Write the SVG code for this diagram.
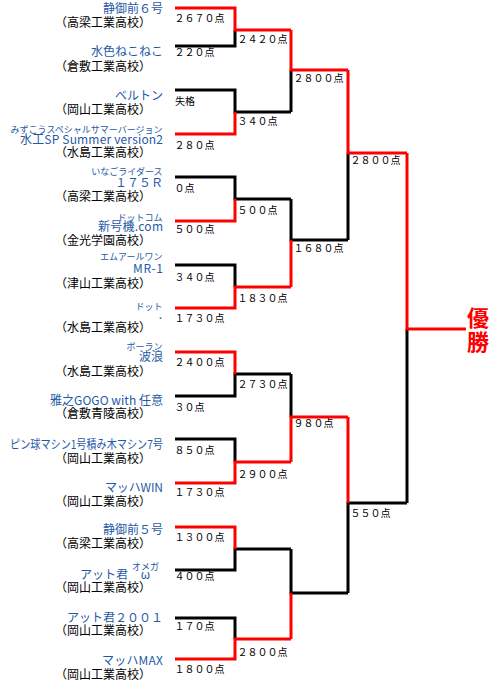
<svg xmlns="http://www.w3.org/2000/svg" width="503" height="686" viewBox="0 0 503 686">
<style>
text{font-family:"Noto Sans CJK JP","Noto Sans CJK SC",sans-serif}
.n{font-size:12px;fill:#1f5aa6;text-anchor:end}
.r{font-size:9px;fill:#1f5aa6;text-anchor:end}
.s{font-size:12px;fill:#000}
.p{font-size:10px;fill:#000}
.k{fill:none;stroke:#000;stroke-width:3}
.w{fill:none;stroke:#f00;stroke-width:3}
.champ{font-size:22px;font-weight:bold;fill:#f00}
</style>
<rect width="503" height="686" fill="#fff"/>
<g id="connectors">
<g class="k">
<path d="M175 46H235V30"/>
<path d="M175 90H235V112H291"/>
<path d="M175 177H235V199H291"/>
<path d="M175 265H235V287"/>
<path d="M175 396H235V374H291"/>
<path d="M175 439H235V462"/>
<path d="M175 570H235V549H291"/>
<path d="M175 618H235V639"/>
<path d="M291 112V70"/>
<path d="M291 199V240H348"/>
<path d="M291 374V417"/>
<path d="M291 549V593H348"/>
<path d="M348 240V153"/>
<path d="M348 593V503H407"/>
<path d="M407 503V329"/>
</g>
<g class="w">
<path d="M175 8H235V30H291"/>
<path d="M175 134H235V112"/>
<path d="M175 221H235V199"/>
<path d="M175 308H235V287H291"/>
<path d="M175 352H235V374"/>
<path d="M175 483H235V462H291"/>
<path d="M175 527H235V549"/>
<path d="M175 659H235V639H291"/>
<path d="M291 30V70H348"/>
<path d="M291 287V240"/>
<path d="M291 462V417H348"/>
<path d="M291 639V593"/>
<path d="M348 70V153H407"/>
<path d="M348 417V503"/>
<path d="M407 153V329H466"/>
</g>
</g>
<g id="team1"><text class="n" x="163" y="13">静御前６号</text><text class="s" x="55" y="27">（高梁工業高校）</text><text class="p" x="174.5" y="22">２６７０点</text></g>
<g id="team2"><text class="n" x="163" y="56">水色ねこねこ</text><text class="s" x="55" y="71">（倉敷工業高校）</text><text class="p" x="174.5" y="56">２２０点</text></g>
<g id="team3"><text class="n" x="163" y="100">ベルトン</text><text class="s" x="55" y="114">（岡山工業高校）</text><text class="p" x="175" y="105">失格</text></g>
<g id="team4"><text class="r" x="162.5" y="133">みずこうスペシャルサマーバージョン</text><text class="n" x="163" y="144" textLength="143">水工SP Summer version2</text><text class="s" x="55" y="157">（水島工業高校）</text><text class="p" x="174.5" y="149">２８０点</text></g>
<g id="team5"><text class="r" x="162.5" y="175">いなごライダース</text><text class="n" x="163" y="187">１７５Ｒ</text><text class="s" x="55" y="201">（高梁工業高校）</text><text class="p" x="174.5" y="192">０点</text></g>
<g id="team6"><text class="r" x="162.5" y="221">ドットコム</text><text class="n" x="163" y="231" textLength="65">新号機.com</text><text class="s" x="55" y="245">（金光学園高校）</text><text class="p" x="174.5" y="233">５００点</text></g>
<g id="team7"><text class="r" x="162.5" y="260">エムアールワン</text><text class="n" x="163" y="273" textLength="30">MR-1</text><text class="s" x="55" y="288">（津山工業高校）</text><text class="p" x="174.5" y="281">３４０点</text></g>
<g id="team8"><text class="r" x="162.5" y="310">ドット</text><text class="n" x="162" y="319">.</text><text class="s" x="55" y="332">（水島工業高校）</text><text class="p" x="174.5" y="322">１７３０点</text></g>
<g id="team9"><text class="r" x="162.5" y="350">ボーラン</text><text class="n" x="163" y="361">波浪</text><text class="s" x="55" y="376">（水島工業高校）</text><text class="p" x="174.5" y="366">２４００点</text></g>
<g id="team10"><text class="n" x="163" y="405" textLength="113">雅之GOGO with 任意</text><text class="s" x="55" y="418">（倉敷青陵高校）</text><text class="p" x="174.5" y="411">３０点</text></g>
<g id="team11"><text class="n" x="163" y="449" textLength="153" lengthAdjust="spacingAndGlyphs">ピン球マシン1号積み木マシン7号</text><text class="s" x="55" y="463">（岡山工業高校）</text><text class="p" x="174.5" y="454">８５０点</text></g>
<g id="team12"><text class="n" x="163" y="492" textLength="58">マッハWIN</text><text class="s" x="55" y="506">（岡山工業高校）</text><text class="p" x="174.5" y="496">１７３０点</text></g>
<g id="team13"><text class="n" x="163" y="534">静御前５号</text><text class="s" x="55" y="548">（高梁工業高校）</text><text class="p" x="174.5" y="541">１３００点</text></g>
<g id="team14"><text class="n" x="128" y="579">アット君</text><text class="r" x="145.5" y="570" style="text-anchor:middle">オメガ</text><text class="n" x="145.5" y="579" style="text-anchor:middle">ω</text><text class="s" x="55" y="592">（岡山工業高校）</text><text class="p" x="174.5" y="580">４００点</text></g>
<g id="team15"><text class="n" x="163" y="622">アット君２００１</text><text class="s" x="55" y="635">（岡山工業高校）</text><text class="p" x="174.5" y="630">１７０点</text></g>
<g id="team16"><text class="n" x="163" y="665" textLength="61">マッハMAX</text><text class="s" x="55" y="679">（岡山工業高校）</text><text class="p" x="174.5" y="673">１８００点</text></g>
<g id="round2">
<text class="p" x="237.5" y="43">２４２０点</text>
<text class="p" x="237.5" y="125">３４０点</text>
<text class="p" x="237.5" y="214">５００点</text>
<text class="p" x="237.5" y="302">１８３０点</text>
<text class="p" x="237.5" y="388">２７３０点</text>
<text class="p" x="237.5" y="478">２９００点</text>
<text class="p" x="237.5" y="656">２８００点</text>
</g>
<g id="round3">
<text class="p" x="293.5" y="82">２８００点</text>
<text class="p" x="293.5" y="252">１６８０点</text>
<text class="p" x="293.5" y="427">９８０点</text>
</g>
<g id="final">
<text class="p" x="350.5" y="164">２８００点</text>
<text class="p" x="350.5" y="517">５５０点</text>
</g>
<g id="champion">
<text class="champ" x="467" y="325.5">優</text>
<text class="champ" x="467" y="350">勝</text>
</g>
</svg>
